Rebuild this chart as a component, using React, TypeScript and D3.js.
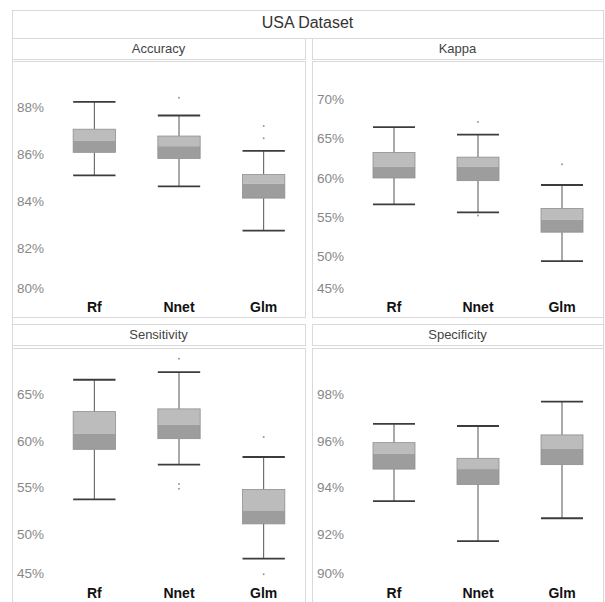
import React from "react";
import * as d3 from "d3";

const title = "USA Dataset";
const categories = ["Rf", "Nnet", "Glm"];

const metricNames = ["Accuracy", "Kappa", "Sensitivity", "Specificity"];
const metricDomains: [number, number][] = [[80, 90], [45, 75], [45, 70], [90, 100]];
const metricTicks = [
  [80, 82, 84, 86, 88],
  [45, 50, 55, 60, 65, 70],
  [45, 50, 55, 60, 65],
  [90, 92, 94, 96, 98],
];

// Accuracy
const accLow = [85.15, 84.69, 82.81];
const accQ1 = [86.13, 85.87, 84.19];
const accMed = [86.63, 86.39, 84.8];
const accQ3 = [87.11, 86.82, 85.19];
const accHigh = [88.27, 87.69, 86.19];
const accOut = [[], [88.44], [87.25, 86.73]];

// Kappa
const kapLow = [56.77, 55.75, 49.57];
const kapQ1 = [60.13, 59.79, 53.24];
const kapMed = [61.58, 61.58, 54.81];
const kapQ3 = [63.37, 62.78, 56.26];
const kapHigh = [66.6, 65.63, 59.24];
const kapOut = [[], [67.25, 55.37], [61.88]];

// Sensitivity
const senLow = [53.86, 57.57, 47.54];
const senQ1 = [59.21, 60.35, 51.25];
const senMed = [60.86, 61.85, 52.68];
const senQ3 = [63.24, 63.53, 54.93];
const senHigh = [66.64, 67.45, 58.39];
const senOut = [[], [68.89, 55.5, 55.0], [60.53, 45.87]];

// Specificity
const speLow = [93.47, 91.76, 92.74];
const speQ1 = [94.84, 94.18, 95.03];
const speMed = [95.5, 94.84, 95.7];
const speQ3 = [95.97, 95.3, 96.3];
const speHigh = [96.77, 96.68, 97.72];
const speOut: number[][] = [[], [], []];

const stats = [
  { low: accLow, q1: accQ1, med: accMed, q3: accQ3, high: accHigh, out: accOut },
  { low: kapLow, q1: kapQ1, med: kapMed, q3: kapQ3, high: kapHigh, out: kapOut },
  { low: senLow, q1: senQ1, med: senMed, q3: senQ3, high: senHigh, out: senOut },
  { low: speLow, q1: speQ1, med: speMed, q3: speQ3, high: speHigh, out: speOut },
];

const W = 605;
const H = 602;
const border = "#d9d9d9";
const font = "Liberation Sans, Arial, sans-serif";

const cols = [
  { x0: 12, x1: 305 },
  { x0: 312, x1: 603 },
];
const rows = [
  { hy0: 38, hy1: 59, py0: 61, py1: 317, yTop: 61, yBot: 297 },
  { hy0: 324, hy1: 345, py0: 348, py1: 606, yTop: 348.3, yBot: 582.4 },
];

function Panel({ idx }: { idx: number }) {
  const col = cols[idx % 2];
  const row = rows[Math.floor(idx / 2)];
  const s = stats[idx];
  const dom = metricDomains[idx];
  const y = d3.scaleLinear().domain(dom).range([row.yBot, row.yTop]);
  const x = d3
    .scaleBand<string>()
    .domain(categories)
    .range([col.x0 + 40, col.x1 + 1])
    .paddingInner(0)
    .paddingOuter(0);
  const bw = x.bandwidth() * 0.5;
  const fmt = (v: number) => `${v}%`;
  return (
    <g>
      <rect x={col.x0 + 0.5} y={row.hy0 + 0.5} width={col.x1 - col.x0} height={row.hy1 - row.hy0} fill="#fff" stroke={border} />
      <text x={(col.x0 + col.x1) / 2} y={(row.hy0 + row.hy1) / 2 + 1} textAnchor="middle" dominantBaseline="middle" fontFamily={font} fontSize={13} fill="#444">
        {metricNames[idx]}
      </text>
      <rect x={col.x0 + 0.5} y={row.py0 + 0.5} width={col.x1 - col.x0} height={row.py1 - row.py0} fill="#fff" stroke={border} />
      {metricTicks[idx].map((t, i) => (
        <text key={t} x={col.x0 + 5} y={y(t) - (i === 0 ? 8 : 0)} textAnchor="start" dominantBaseline="middle" fontFamily={font} fontSize={13.5} fill="#888">
          {fmt(t)}
        </text>
      ))}
      {categories.map((c, i) => {
        const cx = (x(c) as number) + x.bandwidth() / 2;
        const l = cx - bw / 2;
        return (
          <g key={c}>
            <line x1={cx} x2={cx} y1={y(s.high[i])} y2={y(s.q3[i])} stroke="#555" strokeWidth={1} />
            <line x1={cx} x2={cx} y1={y(s.q1[i])} y2={y(s.low[i])} stroke="#555" strokeWidth={1} />
            <line x1={l} x2={l + bw} y1={y(s.high[i])} y2={y(s.high[i])} stroke="#3c3c3c" strokeWidth={1.8} />
            <line x1={l} x2={l + bw} y1={y(s.low[i])} y2={y(s.low[i])} stroke="#3c3c3c" strokeWidth={1.8} />
            <rect x={l} y={y(s.q3[i])} width={bw} height={y(s.med[i]) - y(s.q3[i])} fill="#bcbcbc" />
            <rect x={l} y={y(s.med[i])} width={bw} height={y(s.q1[i]) - y(s.med[i])} fill="#9d9d9d" />
            <rect x={l} y={y(s.q3[i])} width={bw} height={y(s.q1[i]) - y(s.q3[i])} fill="none" stroke="#8f8f8f" strokeWidth={0.8} />
            {s.out[i].map((o, j) => (
              <circle key={j} cx={cx} cy={y(o)} r={1} fill="#999" />
            ))}
            <text x={cx} y={row.yBot + 11.5} textAnchor="middle" dominantBaseline="middle" fontFamily={font} fontWeight="bold" fontSize={14} fill="#111">
              {c}
            </text>
          </g>
        );
      })}
    </g>
  );
}

export default function App() {
  return (
    <div style={{ position: "absolute", left: 0, top: 0 }}>
      <svg width={W} height={H} style={{ display: "block", background: "#fff" }}>
        <rect x={12.5} y={10.5} width={591} height={H} fill="#fff" stroke={border} />
        <line x1={12} x2={603} y1={38.5} y2={38.5} stroke={border} />
        <text x={(12 + 603) / 2} y={24} textAnchor="middle" dominantBaseline="middle" fontFamily={font} fontSize={16} fill="#333">
          {title}
        </text>
        {[0, 1, 2, 3].map((i) => (
          <Panel key={i} idx={i} />
        ))}
      </svg>
    </div>
  );
}
